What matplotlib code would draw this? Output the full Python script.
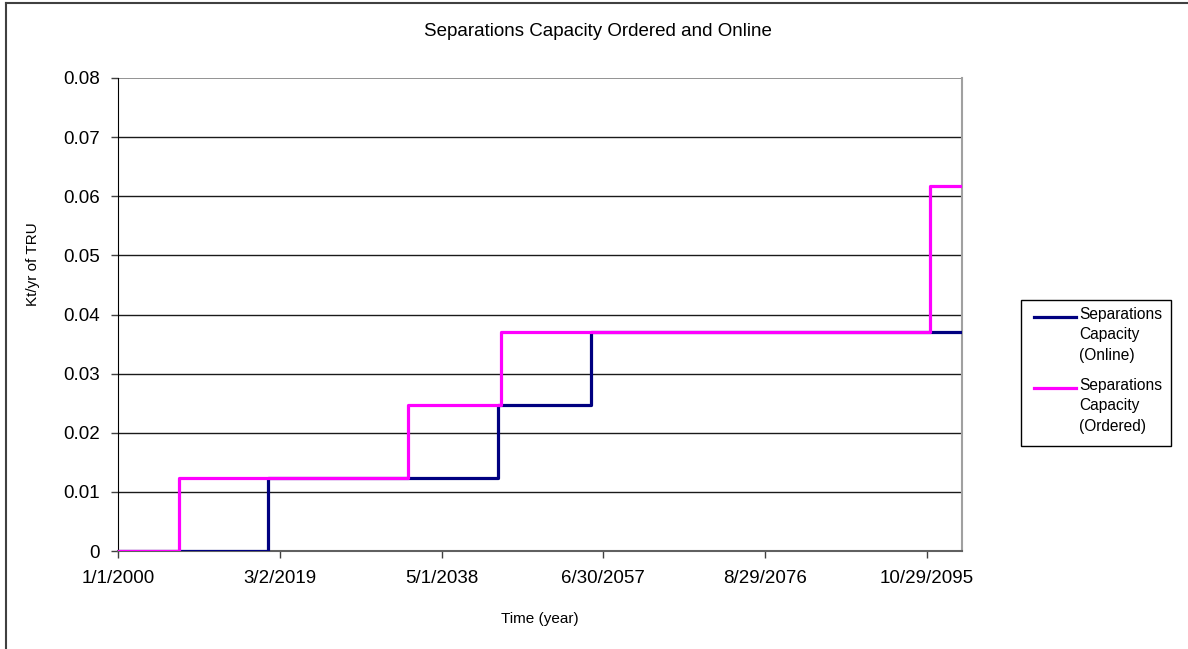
import datetime as dt
import matplotlib
matplotlib.use("Agg")
import matplotlib.pyplot as plt
from matplotlib.lines import Line2D
from matplotlib.patches import Rectangle

plt.rcParams['font.family'] = ['Liberation Sans', 'DejaVu Sans']

# step dates (capacity changes) and capacity levels, Kt/yr of TRU
online_dates = ['2000-01-01', '2017-10-15', '2045-01-01', '2056-01-01', '2100-01-01']
online_vals = [0.0, 0.01234, 0.02468, 0.03702, 0.03702]
ordered_dates = ['2000-01-01', '2007-04-01', '2034-06-01', '2045-05-15', '2096-04-01', '2100-01-01']
ordered_vals = [0.0, 0.01234, 0.02468, 0.03702, 0.0617, 0.0617]
x_tick_labels = ['1/1/2000', '3/2/2019', '5/1/2038', '6/30/2057', '8/29/2076', '10/29/2095']
y_ticks = [0, 0.01, 0.02, 0.03, 0.04, 0.05, 0.06, 0.07, 0.08]
y_tick_labels = ['0', '0.01', '0.02', '0.03', '0.04', '0.05', '0.06', '0.07', '0.08']
names = ['Separations\nCapacity\n(Online)', 'Separations\nCapacity\n(Ordered)']
colors = ['#000080', '#ff00ff']


def to_dates(lst):
    return [dt.datetime.strptime(s, '%Y-%m-%d') for s in lst]


fig = plt.figure(figsize=(11.88, 6.49), dpi=100)
ax = fig.add_axes([118 / 1188, 1 - 551 / 649, 844 / 1188, 473 / 649])

for yv in y_ticks[1:-1]:
    ax.axhline(yv, color='#1a1a1a', lw=1.0, zorder=1)
ax.axhline(0.08, color='#808080', lw=1.2, zorder=1)

ax.step(to_dates(online_dates), online_vals, where='post', color=colors[0], lw=2.3, zorder=3)
ax.step(to_dates(ordered_dates), ordered_vals, where='post', color=colors[1], lw=2.3, zorder=4)

ax.set_xlim(dt.datetime(2000, 1, 1), dt.datetime(2100, 1, 1))
ax.set_ylim(0, 0.08)
ax.set_xticks([dt.datetime.strptime(s, '%m/%d/%Y') for s in x_tick_labels])
ax.set_xticklabels(x_tick_labels)
ax.set_yticks(y_ticks)
ax.set_yticklabels(y_tick_labels)
ax.tick_params(axis='both', labelsize=13.5, length=5, width=1, color='#404040')
ax.tick_params(axis='x', pad=9)
ax.tick_params(axis='y', pad=8)

ax.spines['top'].set_visible(False)
ax.spines['right'].set_color('#a0a0a0')
ax.spines['right'].set_linewidth(1.5)
ax.spines['left'].set_color('#000000')
ax.spines['bottom'].set_color('#606060')
ax.spines['bottom'].set_linewidth(1.5)

ax.set_xlabel('Time (year)', fontsize=11)
ax.xaxis.set_label_coords(0.5, -0.129)
ax.set_ylabel('Kt/yr of TRU', fontsize=11)
ax.yaxis.set_label_coords(-0.093, 0.607)

fig.text(598 / 1188, 1 - 32 / 649, 'Separations Capacity Ordered and Online',
         ha='center', va='center', fontsize=13.5)

# legend box drawn Excel-style
W, H = 1188, 649
fig.patches.append(Rectangle((1021 / W, 1 - 446 / H), 150 / W, 146 / H,
                             transform=fig.transFigure, fill=False,
                             edgecolor='#000000', lw=1))
for i, (nm, c) in enumerate(zip(names, colors)):
    y0 = 317 + i * 71
    fig.add_artist(Line2D([1034 / W, 1076 / W], [1 - y0 / H, 1 - y0 / H],
                          transform=fig.transFigure, color=c, lw=2.3))
    fig.text(1079 / W, 1 - (y0 - 10) / H, nm, ha='left', va='top',
             fontsize=11.2, linespacing=1.45)

# outer chart border (left and top)
fig.add_artist(Line2D([6 / W, 6 / W], [0, 1 - 3 / H], transform=fig.transFigure, color='#404040', lw=1.5))
fig.add_artist(Line2D([6 / W, 1], [1 - 3 / H, 1 - 3 / H], transform=fig.transFigure, color='#404040', lw=1.5))

fig.savefig('out.png', dpi=100)
